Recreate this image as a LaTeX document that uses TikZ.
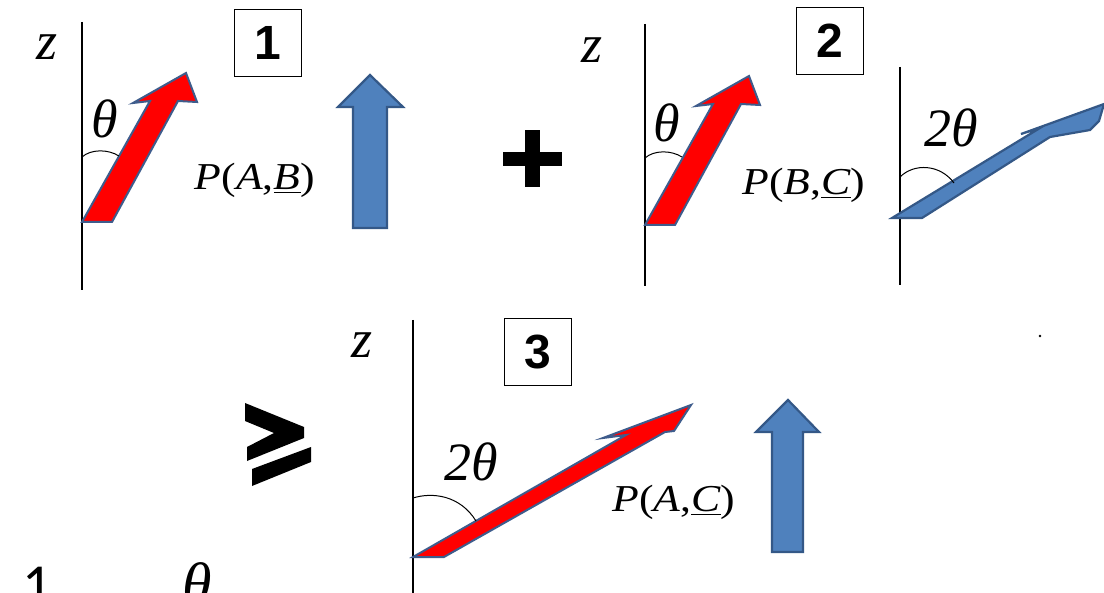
\documentclass[tikz,border=0pt]{standalone}
\usepackage{fontspec}
\setmainfont{Liberation Serif}
\newfontfamily\sansf{Liberation Sans}
\newfontfamily\calf{Carlito}
\definecolor{redarrowedge}{RGB}{62,92,140}
\definecolor{officeblue}{RGB}{79,129,189}
\definecolor{blueedge}{RGB}{52,88,135}
\tikzset{
  axisline/.style={line width=0.75pt},
  anglearc/.style={line width=0.5pt},
  redarrow/.style={fill=red, draw=redarrowedge, line width=1pt, line join=miter},
  bluearrow/.style={fill=officeblue, draw=blueedge, line width=1.1pt, line join=miter},
  numbox/.style={draw, line width=0.8pt, minimum width=33.5pt, minimum height=33.5pt, inner sep=0pt,
                 font=\sansf\bfseries\fontsize{24}{24}\selectfont},
  bigsym/.style={inner sep=0pt, font=\fontsize{27}{27}\selectfont\itshape},
  plabel/.style={inner sep=0pt, font=\fontsize{19}{19}\selectfont},
}
\begin{document}
\begin{tikzpicture}[x=0.5pt,y=-0.5pt]
\clip (0,0) rectangle (1104,593);
\fill[white] (0,0) rectangle (1104,593);

% ---------------- panel 1 ----------------
\coordinate (a1t) at (82,22);
\coordinate (a1b) at (82,290);
\draw[axisline] (a1t) -- (a1b);
\node[bigsym] (z1) at (47,47) {z};
\node[numbox] (box1) at (268,43) {1};
\filldraw[redarrow] (82,222) -- (150,101) -- (133,103) -- (186,73) -- (197,102) -- (178,101) -- (112,222) -- cycle;
\draw[anglearc] (82,157) .. controls (91,149) and (108,149) .. (119,156);
\node[bigsym] (th1) at (105,119) {θ};
\node[plabel] (pab) at (255,180) {\scalebox{1.15}[1]{\textit{P}(\textit{A},\underline{\textit{B}})}};
\filldraw[bluearrow] (353,228) -- (353,107) -- (338,107) -- (370,75) -- (403,107) -- (387,107) -- (387,228) -- cycle;

% plus
\fill (503,152) rectangle (562,166);
\fill (525,130) rectangle (540,187);

% ---------------- panel 2 ----------------
\coordinate (a2t) at (645,24);
\coordinate (a2b) at (645,286);
\draw[axisline] (a2t) -- (a2b);
\node[bigsym] (z2) at (592,50) {z};
\node[numbox] (box2) at (830,41) {2};
\begin{scope}[shift={(563,3)}]
\filldraw[redarrow] (82,222) -- (150,101) -- (133,103) -- (186,73) -- (197,102) -- (178,101) -- (112,222) -- cycle;
\end{scope}
\draw[anglearc] (645,158) .. controls (654,150) and (671,150) .. (682,157);
\node[bigsym] (th2) at (667,123) {θ};
\node[plabel] (pbc) at (804,185) {\scalebox{1.15}[1]{\textit{P}(\textit{B},\underline{\textit{C}})}};

\coordinate (a2ct) at (900,67);
\coordinate (a2cb) at (900,285);
\draw[axisline] (a2ct) -- (a2cb);
\filldraw[bluearrow] (892,218) -- (1040,128) -- (1021,134) -- (1104,104) -- (1099,121) -- (1090,130) -- (1050,137) -- (922,218) -- cycle;
\draw[anglearc] (900,177) .. controls (914,163) and (940,164) .. (954,183);
\node[bigsym] (tth2) at (951,128) {2θ};

% ---------------- panel 3 ----------------
\fill (245,403) -- (304,427) -- (304,438) -- (247,461) -- (247,447) -- (274,433) -- (245,421) -- cycle;
\fill (252,469) -- (311,447) -- (311,462) -- (252,486) -- cycle;

\coordinate (a3t) at (413,320);
\coordinate (a3b) at (413,600);
\draw[axisline] (a3t) -- (a3b);
\node[bigsym] (z3) at (362,345) {z};
\node[numbox] (box3) at (538,352) {3};
\filldraw[redarrow] (413,557) -- (626,435) -- (603,438) -- (691,405) -- (674,431) -- (665,432) -- (444,557) -- cycle;
\draw[anglearc] (413,498) .. controls (432,492) and (460,495) .. (476,521);
\node[bigsym] (tth3) at (471,462) {2θ};
\node[plabel] (pac) at (674,502) {\scalebox{1.15}[1]{\textit{P}(\textit{A},\underline{\textit{C}})}};
\filldraw[bluearrow] (772,552) -- (772,432) -- (756,432) -- (788,400) -- (819,432) -- (803,432) -- (803,552) -- cycle;

% stray marks
\fill (1040,336) circle[radius=1.3];
\node[inner sep=0pt, anchor=base, font=\calf\fontsize{29}{29}\selectfont] (one) at (37,604) {1};
\node[inner sep=0pt, anchor=base, font=\fontsize{30}{30}\selectfont\itshape] (thb) at (197,604) {θ};
\end{tikzpicture}
\end{document}
